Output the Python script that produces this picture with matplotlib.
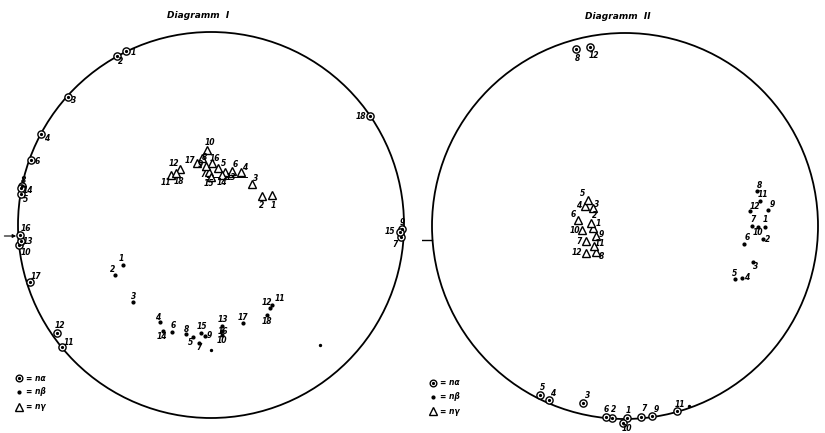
import matplotlib.pyplot as plt
from matplotlib.patches import Circle

# Projected optic directions, unit circle = primitive of the net.
# Diagramm I
d1_alpha_lbl = ['1', '2', '3', '4', '5', '6', '7', '8', '9', '10', '11', '12', '13', '14', '15', '16', '17', '18']
d1_alpha_x = [-0.44, -0.487, -0.741, -0.88, -0.985, -0.933, 0.984, -0.98, 0.99, -0.995, -0.772, -0.798, -0.984, -0.984, 0.979, -0.99, -0.938, 0.824]
d1_alpha_y = [0.90, 0.876, 0.663, 0.47, 0.16, 0.337, -0.062, 0.20, -0.021, -0.104, -0.632, -0.560, -0.083, 0.192, -0.036, -0.052, -0.295, 0.565]

d1_beta_lbl = ['1', '2', '3', '4', '5', '6', '7', '8', '9', '10', '11', '12', '13', '14', '15', '16', '17', '18']
d1_beta_x = [-0.456, -0.497, -0.404, -0.264, -0.093, -0.202, -0.062, -0.130, -0.031, 0.057, 0.316, 0.306, 0.057, -0.249, -0.052, 0.057, 0.166, 0.290]
d1_beta_y = [-0.207, -0.259, -0.399, -0.503, -0.580, -0.554, -0.611, -0.565, -0.575, -0.570, -0.415, -0.430, -0.523, -0.549, -0.560, -0.549, -0.508, -0.466]
d1_extra_x = [0.0, 0.565]
d1_extra_y = [-0.648, -0.622]

d1_gamma_lbl = ['1', '2', '3', '4', '5', '6', '7', '8', '9', '10', '11', '12', '13', '14', '15', '16', '17', '18']
d1_gamma_x = [0.316, 0.264, 0.212, 0.155, 0.036, 0.109, -0.010, -0.047, -0.026, -0.021, -0.207, -0.161, 0.073, 0.057, 0.0, 0.005, -0.073, -0.181]
d1_gamma_y = [0.155, 0.150, 0.212, 0.275, 0.295, 0.280, 0.275, 0.347, 0.306, 0.389, 0.259, 0.290, 0.275, 0.259, 0.249, 0.321, 0.321, 0.269]

# Diagramm II
d2_alpha_lbl = ['1', '2', '3', '4', '5', '6', '7', '8', '9', '10', '11', '12']
d2_alpha_x = [0.010, -0.067, -0.218, -0.394, -0.440, -0.098, 0.083, -0.254, 0.140, -0.010, 0.269, -0.181]
d2_alpha_y = [-0.995, -0.995, -0.917, -0.902, -0.876, -0.99, -0.99, 0.917, -0.985, -1.02, -0.96, 0.927]
d2_extra_x = [0.332]
d2_extra_y = [-0.933]

d2_beta_lbl = ['1', '2', '3', '4', '5', '6', '7', '8', '9', '10', '11', '12']
d2_beta_x = [0.725, 0.715, 0.663, 0.606, 0.570, 0.617, 0.658, 0.684, 0.741, 0.689, 0.699, 0.648]
d2_beta_y = [-0.005, -0.067, -0.187, -0.269, -0.275, -0.093, 0.0, 0.181, 0.083, -0.005, 0.130, 0.078]

d2_gamma_lbl = ['1', '2', '3', '4', '5', '6', '7', '8', '9', '10', '11', '12']
d2_gamma_x = [-0.166, -0.176, -0.166, -0.207, -0.192, -0.244, -0.202, -0.150, -0.150, -0.223, -0.161, -0.202]
d2_gamma_y = [-0.010, 0.016, 0.093, 0.104, 0.135, 0.031, -0.078, -0.135, -0.052, -0.021, -0.104, -0.140]

# label offsets in pixels (right, up)
d1_alpha_off = [(7, -1), (4, -6), (6, -3), (5, -4), (5, -5), (6, -2), (-6, -8), (2, 6), (0, 7), (7, -7),
                (7, 4), (3, 8), (7, 0), (7, -3), (-10, 0), (6, 7), (6, 5), (-9, -1)]
d1_beta_off = [(-2, 6), (-3, 5), (1, 6), (-2, 5), (-3, -6), (1, 6), (0, -5), (1, 5), (4, 0), (0, -5),
               (8, 7), (-3, 5), (1, 6), (-1, -6), (1, 7), (1, -1), (0, 6), (0, -7)]
d1_gamma_off = [(1, -10), (0, -9), (4, 6), (4, 4), (6, 5), (3, 6), (-6, -3), (3, 1), (-6, 1), (3, 7),
                (-5, -7), (-6, 6), (6, -6), (0, -7), (-2, -7), (3, 5), (-7, 3), (3, -8)]
d2_alpha_off = [(1, 8), (1, 9), (5, 7), (4, 7), (2, 8), (0, 8), (3, 9), (1, -9), (4, 7), (4, -6), (3, 7), (4, -8)]
d2_beta_off = [(0, 7), (5, -1), (3, -4), (5, 0), (0, 6), (3, 6), (1, 6), (2, 6), (4, 5), (0, -6), (3, 6), (5, 4)]
d2_gamma_off = [(5, 4), (4, 7), (4, 4), (-6, 0), (-5, 6), (-5, 6), (-7, 0), (5, -4), (5, 2), (-7, 0), (6, 3), (-9, 1)]

R_PX = 193
LBL = dict(fontsize=5.5, fontstyle='italic', fontweight='bold', ha='center', va='center')


def draw_alpha(ax, x, y, ms=5.2):
    ax.plot(x, y, 'o', ms=ms, mfc='white', mec='black', mew=1.0, zorder=3)
    ax.plot(x, y, 'o', ms=1.3, color='black', zorder=4)


def draw_beta(ax, x, y):
    ax.plot(x, y, 'o', ms=2.0, color='black', zorder=3)


def draw_gamma(ax, x, y, ms=5.8):
    ax.plot(x, y, '^', ms=ms, mfc='white', mec='black', mew=1.0, zorder=3)


def put_labels(ax, x, y, labels, offsets):
    for xi, yi, t, off in zip(x, y, labels, offsets):
        ax.annotate(t, (xi, yi), xytext=off, textcoords='offset pixels', zorder=5, **LBL)


def setup_net(fig, rect, cx, cy, width):
    ax = fig.add_axes(rect)
    ax.set_xlim(-cx / R_PX, (width - cx) / R_PX)
    ax.set_ylim(-(433 - cy) / R_PX, cy / R_PX)
    ax.axis('off')
    ax.add_patch(Circle((0, 0), 1.0, fill=False, lw=1.3, ec='black'))
    return ax


def legend_block(ax, x0, ys):
    draw_alpha(ax, [x0], [ys[0]], ms=4.8)
    draw_beta(ax, [x0], [ys[1]])
    draw_gamma(ax, [x0], [ys[2]], ms=5.2)
    for yy, t in zip(ys, ['= nα', '= nβ', '= nγ']):
        ax.text(x0 + 0.035, yy, t, fontsize=5.5, fontstyle='italic', fontweight='bold',
                ha='left', va='center')


fig = plt.figure(figsize=(8.25, 4.33), dpi=100)

# Diagramm I
ax1 = setup_net(fig, [0, 0, 422 / 825, 1], 211, 225, 422)
ax1.text(-0.067, 1.088, 'Diagramm  I', fontsize=6.5, fontstyle='italic', fontweight='bold',
         ha='center', va='center')
draw_alpha(ax1, d1_alpha_x, d1_alpha_y)
draw_beta(ax1, d1_beta_x, d1_beta_y)
ax1.plot(d1_extra_x, d1_extra_y, 'o', ms=1.4, color='black')
draw_gamma(ax1, d1_gamma_x, d1_gamma_y)
ax1.plot([-0.021, 0.187], [0.249, 0.249], color='black', lw=0.7)
put_labels(ax1, d1_alpha_x, d1_alpha_y, d1_alpha_lbl, d1_alpha_off)
put_labels(ax1, d1_beta_x, d1_beta_y, d1_beta_lbl, d1_beta_off)
put_labels(ax1, d1_gamma_x, d1_gamma_y, d1_gamma_lbl, d1_gamma_off)
ax1.annotate('', xy=(-0.995, -0.057), xytext=(-1.085, -0.057),
             arrowprops=dict(arrowstyle='-|>', lw=0.8, color='black', mutation_scale=5))
legend_block(ax1, -0.995, [-0.793, -0.865, -0.943])

# Diagramm II
ax2 = setup_net(fig, [422 / 825, 0, 403 / 825, 1], 203, 226, 403)
ax2.text(-0.036, 1.088, 'Diagramm  II', fontsize=6.5, fontstyle='italic', fontweight='bold',
         ha='center', va='center')
draw_alpha(ax2, d2_alpha_x, d2_alpha_y)
draw_beta(ax2, d2_beta_x, d2_beta_y)
ax2.plot(d2_extra_x, d2_extra_y, 'o', ms=1.4, color='black')
draw_gamma(ax2, d2_gamma_x, d2_gamma_y)
put_labels(ax2, d2_alpha_x, d2_alpha_y, d2_alpha_lbl, d2_alpha_off)
put_labels(ax2, d2_beta_x, d2_beta_y, d2_beta_lbl, d2_beta_off)
put_labels(ax2, d2_gamma_x, d2_gamma_y, d2_gamma_lbl, d2_gamma_off)
ax2.plot([-1.06, -1.0], [-0.073, -0.073], color='black', lw=1.0)
legend_block(ax2, -0.995, [-0.813, -0.886, -0.959])

fig.savefig('out.png', dpi=100)
